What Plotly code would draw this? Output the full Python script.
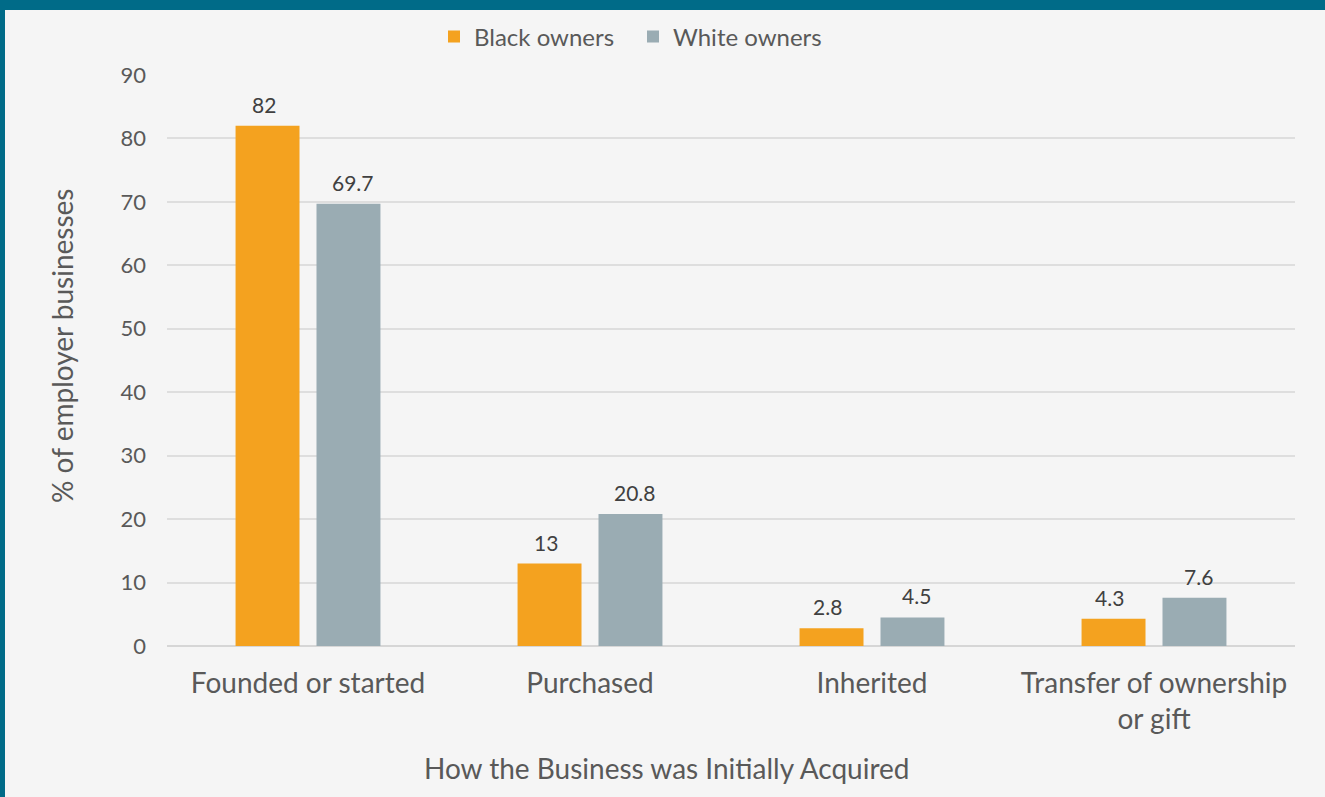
import plotly.graph_objects as go

# Data: how employer businesses were initially acquired, by owner race
categories = ["Founded or started", "Purchased", "Inherited", "Transfer of ownership<br>or gift"]
black_owners = [82, 13, 2.8, 4.3]
white_owners = [69.7, 20.8, 4.5, 7.6]
y_ticks = [0, 10, 20, 30, 40, 50, 60, 70, 80, 90]

ORANGE = "#F4A21F"
SLATE = "#9AACB3"
TEAL = "#006B88"
BG = "#F5F5F5"
TEXT = "#595959"
FONT = "Lato, 'Open Sans', sans-serif"

W, H = 1325, 797
M_L, M_R, M_T, M_B = 167, 30, 75, 151
plot_w = W - M_L - M_R
plot_h = H - M_T - M_B


def px_x(px):
    """Convert a pixel column to paper x."""
    return (px - M_L) / plot_w


def px_y(py):
    """Convert a pixel row (from top) to paper y."""
    return (H - M_B - py) / plot_h


fig = go.Figure()
fig.add_trace(go.Bar(name="Black owners", x=categories, y=black_owners,
                     marker=dict(color=ORANGE, line=dict(width=0))))
fig.add_trace(go.Bar(name="White owners", x=categories, y=white_owners,
                     marker=dict(color=SLATE, line=dict(width=0))))

# Value labels above each bar
bar_offset_px = 44.5
for vals, sign in ((black_owners, -1), (white_owners, 1)):
    for cat, v in zip(categories, vals):
        fig.add_annotation(x=cat, y=v, text=f"{v:g}", showarrow=False,
                           xanchor="center", yanchor="bottom",
                           xshift=sign * bar_offset_px, yshift=7,
                           font=dict(family=FONT, size=21, color="#404040"))

# Axis titles
fig.add_annotation(xref="paper", yref="paper", x=px_x(667), y=px_y(768),
                   text="How the Business was Initially Acquired", showarrow=False,
                   xanchor="center", yanchor="middle",
                   font=dict(family=FONT, size=28, color=TEXT))
fig.add_annotation(xref="paper", yref="paper", x=px_x(62), y=px_y(346),
                   text="% of employer businesses", showarrow=False, textangle=-90,
                   xanchor="center", yanchor="middle",
                   font=dict(family=FONT, size=28, color=TEXT))

# Teal frame along the top and left edges
fig.add_shape(type="rect", xref="paper", yref="paper",
              x0=px_x(-5), x1=px_x(W + 5), y0=px_y(10), y1=px_y(-5),
              fillcolor=TEAL, line=dict(width=0), layer="above")
fig.add_shape(type="rect", xref="paper", yref="paper",
              x0=px_x(-5), x1=px_x(5), y0=px_y(H + 5), y1=px_y(-5),
              fillcolor=TEAL, line=dict(width=0), layer="above")

fig.update_layout(
    width=W, height=H,
    margin=dict(l=M_L, r=M_R, t=M_T, b=M_B, autoexpand=False),
    paper_bgcolor=BG, plot_bgcolor=BG,
    font=dict(family=FONT, color=TEXT),
    barmode="group", bargap=0.426, bargroupgap=0.21,
    showlegend=True,
    legend=dict(orientation="h", x=px_x(434), xanchor="left",
                y=px_y(37), yanchor="middle",
                font=dict(family=FONT, size=24, color=TEXT),
                bgcolor="rgba(0,0,0,0)", itemwidth=30, tracegroupgap=0,
                entrywidth=154, entrywidthmode="pixels"),
    xaxis=dict(
        showgrid=False, showline=False, ticks="", zeroline=False,
        ticklabelstandoff=18,
        tickfont=dict(family=FONT, size=28, color=TEXT),
    ),
    yaxis=dict(
        range=[0, 90], tickvals=y_ticks, ticktext=[str(t) for t in y_ticks],
        showgrid=True, gridcolor="#DEDEDE", gridwidth=1.5,
        zeroline=True, zerolinecolor="#D6D6D6", zerolinewidth=1.5,
        showline=False, ticks="", ticklabelstandoff=20,
        tickfont=dict(family=FONT, size=22, color=TEXT),
    ),
)

fig.write_html("out.html")
